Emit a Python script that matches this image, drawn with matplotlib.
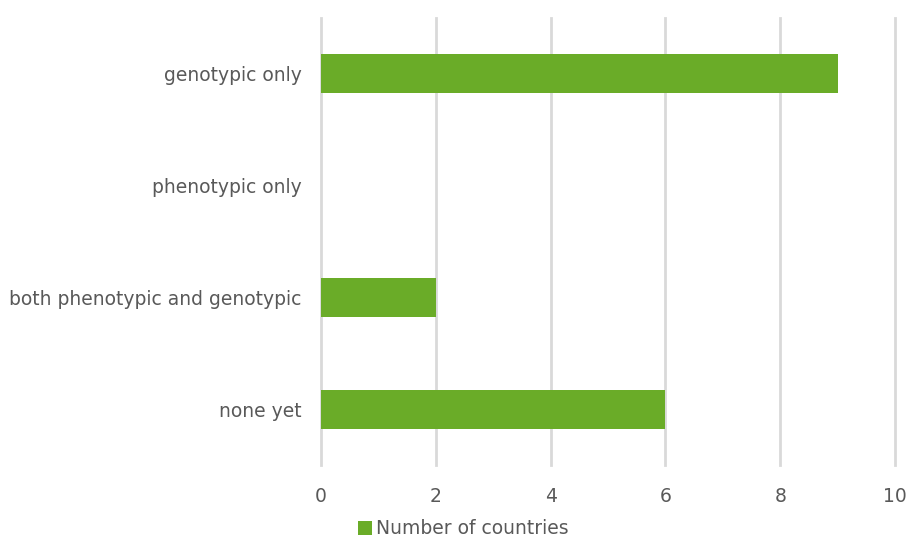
import matplotlib.pyplot as plt

plt.rcParams['font.family'] = ['DejaVu Sans']

categories = ['none yet', 'both phenotypic and genotypic', 'phenotypic only', 'genotypic only']
countries = [6, 2, 0, 9]
series_name = 'Number of countries'

text_col = '#595959'
bar_col = '#6aac28'

fig = plt.figure(figsize=(9.08, 5.38), dpi=100)
ax = fig.add_axes([0.3535, 0.1357, 0.6322, 0.8308])

ax.barh(categories, countries, height=0.35, color=bar_col, label=series_name, zorder=3)

ax.set_xlim(0, 10)
ax.set_xticks(range(0, 11, 2))
ax.set_ylim(-0.5, len(categories) - 0.5)
ax.grid(axis='x', color='#d9d9d9', linewidth=2.0, zorder=0)
for gl in ax.get_xgridlines():
    gl.set_clip_on(False)
for s in ax.spines.values():
    s.set_visible(False)
ax.tick_params(length=0, labelsize=13.5, colors=text_col, pad=16)
ax.tick_params(axis='y', pad=14)

fig.legend(loc='lower center', bbox_to_anchor=(0.51, -0.032), frameon=False,
           fontsize=13.5, labelcolor=text_col, handlelength=0.75, handleheight=0.75,
           handletextpad=0.2)

fig.savefig('out.png', dpi=100)
